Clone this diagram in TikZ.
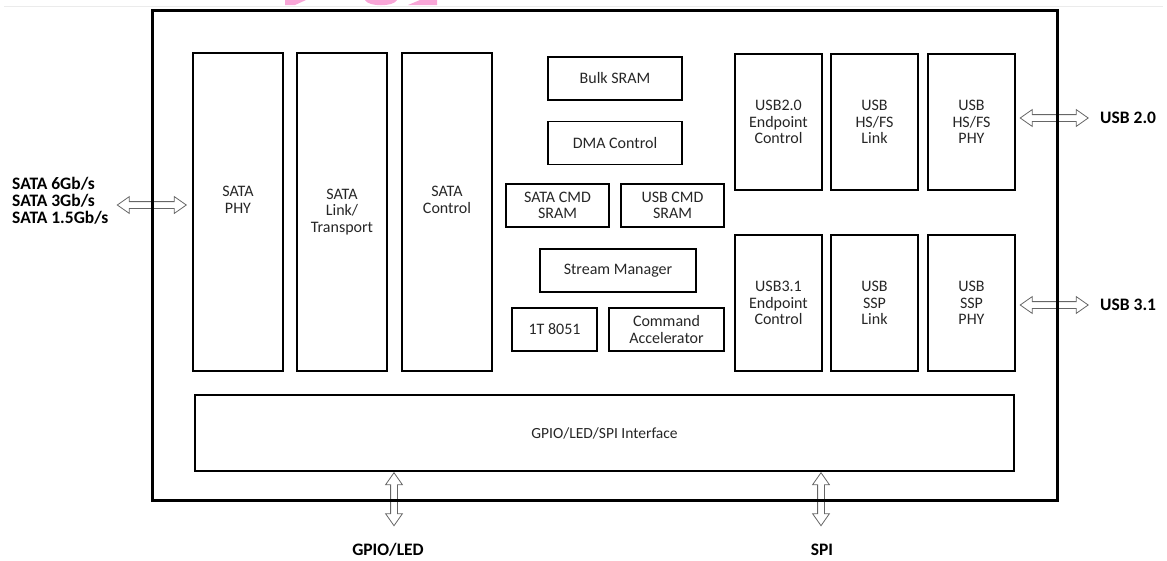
\documentclass[tikz,border=0pt]{standalone}
\usepackage{fontspec}
\setmainfont{Carlito}
\usetikzlibrary{calc}
\usetikzlibrary{shapes.arrows}

\begin{document}
\begin{tikzpicture}[x=1pt,y=-1pt,
  blk/.style={draw, line width=1.4pt, align=center, inner sep=0, text=black!85,
    font=\fontsize{16}{16.5}\selectfont},
  sig/.style={inner sep=0, align=left, font=\bfseries\fontsize{17.5}{17}\selectfont},
  dbl/.style={double arrow, draw=black!60, line width=.8pt, inner sep=3pt,
    double arrow head extend=5pt, double arrow tip angle=70}]
\useasboundingbox (0,0) rectangle (1167,560);

\draw[black!8, line width=1pt] (4,6) -- (1163,6);
\fill[magenta!35] (285,0) -- (306,0) -- (295,5) -- (285,5) -- cycle;
\fill[magenta!35] (365,0) .. controls (368,7) and (394,7) .. (397,0) -- cycle;
\fill[magenta!35] (420,0) -- (437,0) -- (437,5) -- (408,5) -- cycle;

% SATA side
\node[blk, minimum width=90, minimum height=318] (phy) at (238,212) {SATA\\PHY\\[8pt]};
\node[blk, minimum width=90, minimum height=318] (link) at (342,212) {SATA\\Link/\\Transport};
\node[blk, minimum width=90, minimum height=318] (ctrl) at (447,212) {SATA\\Control\\[8pt]};

% middle column
\node[blk, minimum width=134, minimum height=43] (bulk) at (615,78.5) {Bulk SRAM};
\node[blk, minimum width=134, minimum height=43] (dma) at (615,143) {DMA Control};
\node[blk, minimum width=103, minimum height=43] (satacmd) at (557.5,205.5) {SATA CMD\\SRAM};
\node[blk, minimum width=103, minimum height=43] (usbcmd) at (672.5,205.5) {USB CMD\\SRAM};
\node[blk, minimum width=156, minimum height=43] (stream) at (618,270.5) {Stream Manager};
\node[blk, minimum width=85, minimum height=43] (cpu) at (554.5,329.5) {1T 8051};
\node[blk, minimum width=115, minimum height=43] (cmdacc) at (666.5,329.5) {Command\\Accelerator};

% USB side
\node[blk, minimum width=87, minimum height=136] (ep2) at (778.5,122) {USB2.0\\Endpoint\\Control};
\node[blk, minimum width=87, minimum height=136] (hslink) at (874.5,122) {USB\\HS/FS\\Link};
\node[blk, minimum width=87, minimum height=136] (hsphy) at (971.5,122) {USB\\HS/FS\\PHY};
\node[blk, minimum width=87, minimum height=136] (ep3) at (778.5,303) {USB3.1\\Endpoint\\Control};
\node[blk, minimum width=87, minimum height=136] (ssplink) at (874.5,303) {USB\\SSP\\Link};
\node[blk, minimum width=87, minimum height=136] (sspphy) at (971.5,303) {USB\\SSP\\PHY};

\node[blk, minimum width=819, minimum height=76, font=\fontsize{15.5}{16}\selectfont] (gpio) at (604.5,433) {GPIO/LED/SPI Interface};

% outside signals
\node[sig, anchor=west] (satasig) at (12,201) {SATA 6Gb/s\\SATA 3Gb/s\\SATA 1.5Gb/s};
\node[sig, anchor=west] (usb2sig) at (1100,118) {USB 2.0};
\node[sig, anchor=west] (usb3sig) at (1100,305) {USB 3.1};
\node[sig] (gpiosig) at (388,550) {GPIO/LED};
\node[sig] (spisig) at (822,550) {SPI};

\node[dbl, minimum height=69] (asata) at ($(phy.west)+(-40.5,-7)$) {};
\node[dbl, minimum height=68] (ausb2) at ($(hsphy.east)+(38.5,-4)$) {};
\node[dbl, minimum height=68] (ausb3) at ($(sspphy.east)+(38.5,2)$) {};
\node[dbl, minimum height=53, rotate=90] (agpio) at ($(gpio.south)+(-210.5,27.5)$) {};
\node[dbl, minimum height=53, rotate=90] (aspi) at ($(gpio.south)+(216.5,27.5)$) {};

\node[draw, line width=3pt, inner sep=0, minimum width=905, minimum height=490] (chip) at (604.5,255) {};

\end{tikzpicture}
\end{document}
